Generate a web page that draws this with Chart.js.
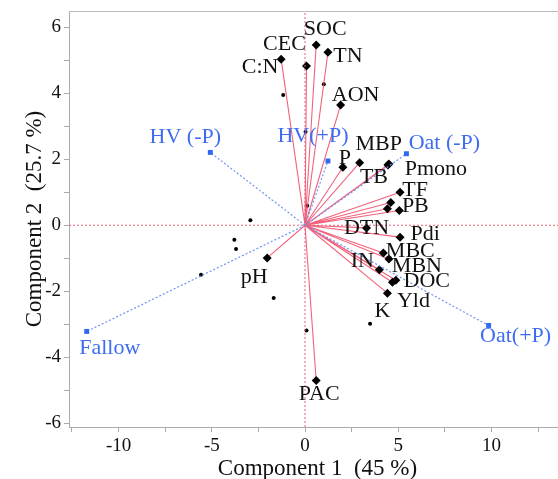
<!DOCTYPE html>
<html>
<head>
<meta charset="utf-8">
<script src="https://cdn.jsdelivr.net/npm/chart.js@4.4.1/dist/chart.umd.min.js"></script>
<style>
  html, body { margin: 0; padding: 0; overflow: hidden; background: #fff; }
  #wrap { position: absolute; left: 0; top: 0; width: 570px; height: 479px; }
</style>
</head>
<body>
<div id="wrap"><canvas id="chart"></canvas></div>
<script>
// loadings (red vectors)
const varNames = ['C:N', 'CEC', 'SOC', 'TN', 'AON', 'P', 'MBP', 'TB', 'Pmono', 'TF', '', '', 'PB',
  'DTN', 'Pdi', 'MBC', 'MBN', 'IN', 'DOC', 'Yld', 'K', 'pH', 'PAC'];
const varX = [-1.28, 0.08, 0.60, 1.23, 1.91, 2.03, 2.93, 4.45, 4.50, 5.10, 4.60, 4.42, 5.06,
  3.30, 5.10, 4.20, 4.50, 3.99, 4.87, 4.69, 4.42, -2.03, 0.60];
const varY = [5.04, 4.83, 5.47, 5.25, 3.65, 1.76, 1.90, 1.83, 1.86, 1.00, 0.69, 0.50, 0.45,
  -0.08, -0.36, -0.84, -1.02, -1.35, -1.67, -1.73, -2.06, -0.99, -4.71];

// treatment scores (blue)
const groupNames = ['HV (-P)', 'HV(+P)', 'Oat (-P)', 'Fallow', 'Oat(+P)'];
const groupX = [-5.08, 1.23, 5.44, -11.71, 9.85];
const groupY = [2.21, 1.95, 2.17, -3.22, -3.04];

// individual observations (small black dots)
const obsX = [-1.17, 1.01, 0.03, 0.12, -2.93, -3.79, -3.70, -5.58, -1.68, 0.08, 3.49];
const obsY = [3.95, 4.28, 2.84, 0.59, 0.15, -0.44, -0.72, -1.50, -2.21, -3.19, -2.99];

const xTicks = [-12.5, -10, -7.5, -5, -2.5, 0, 2.5, 5, 7.5, 10, 12.5];
const yTicks = [-6, -5, -4, -3, -2, -1, 0, 1, 2, 3, 4, 5, 6];

const X_MIN = -12.66, X_MAX = 14, Y_MIN = -6.12, Y_MAX = 6.5;
const FONT = "'Liberation Serif', 'Times New Roman', serif";

// label placement relative to marker, in pixels
const varLabelOffset = {
  'C:N': [-21, 8], 'CEC': [-22, -22], 'SOC': [9, -16], 'TN': [20, 4], 'AON': [15, -10],
  'P': [2, -9], 'MBP': [19, -18], 'TB': [-14, 12], 'Pmono': [47, 5], 'TF': [15, -2],
  'PB': [16, -4], 'DTN': [0, 0], 'Pdi': [25, -3], 'MBC': [27, -2], 'MBN': [28, 7],
  'IN': [-17, -9], 'DOC': [31, 1], 'Yld': [21, 19], 'K': [-5, 18], 'pH': [-13, 19], 'PAC': [3, 14]
};
const groupLabelOffset = {
  'HV (-P)': [-25, -15], 'HV(+P)': [-15, -25], 'Oat (-P)': [38, -11], 'Fallow': [23, 17], 'Oat(+P)': [27, 11]
};

function rays(xs, ys) {
  const pts = [];
  xs.forEach((x, i) => { pts.push({x: 0, y: 0}, {x: x, y: ys[i]}, {x: 0, y: null}); });
  return pts;
}

const labelPlugin = {
  id: 'labels',
  afterDatasetsDraw(chart) {
    const c = chart.ctx, sx = chart.scales.x, sy = chart.scales.y;
    c.save();
    c.textAlign = 'center';
    c.textBaseline = 'middle';
    c.font = '22px ' + FONT;
    c.fillStyle = '#111';
    varNames.forEach((n, i) => {
      if (!n) return;
      const o = varLabelOffset[n] || [0, 0];
      c.fillText(n, sx.getPixelForValue(varX[i]) + o[0], sy.getPixelForValue(varY[i]) + o[1]);
    });
    c.fillStyle = '#3f6cf0';
    groupNames.forEach((n, i) => {
      const o = groupLabelOffset[n] || [0, 0];
      c.fillText(n, sx.getPixelForValue(groupX[i]) + o[0], sy.getPixelForValue(groupY[i]) + o[1]);
    });
    c.restore();
  }
};

new Chart(document.getElementById('chart'), {
  type: 'scatter',
  data: {
    datasets: [
      { // zero lines
        data: [{x: X_MIN, y: 0}, {x: X_MAX, y: 0}, {x: 0, y: null}, {x: 0, y: Y_MIN}, {x: 0, y: Y_MAX}],
        showLine: true, borderColor: '#e8607a', borderWidth: 1, borderDash: [2, 2],
        pointRadius: 0, spanGaps: false
      },
      { // treatment score rays
        data: rays(groupX, groupY),
        showLine: true, borderColor: '#6f95f5', borderWidth: 1.2, borderDash: [2, 2],
        pointStyle: 'rect', backgroundColor: '#2f6af2',
        pointRadius: ctx => ctx.dataIndex % 3 === 1 ? 3.5 : 0,
        pointBorderColor: '#2f6af2', pointBorderWidth: 0, spanGaps: false
      },
      { // loading vectors
        data: rays(varX, varY),
        showLine: true, borderColor: 'rgba(240,70,100,0.85)', borderWidth: 1.1,
        pointStyle: 'rectRot', backgroundColor: '#000', pointBorderColor: '#000', pointBorderWidth: 0,
        pointRadius: ctx => ctx.dataIndex % 3 === 1 ? 4.5 : 0, spanGaps: false
      },
      { // observations
        data: obsX.map((x, i) => ({x: x, y: obsY[i]})),
        pointStyle: 'circle', backgroundColor: '#000', borderWidth: 0, pointRadius: 2
      }
    ]
  },
  options: {
    responsive: true,
    maintainAspectRatio: false,
    animation: false,
    events: [],
    layout: { padding: { top: 11, left: 0, right: 0, bottom: 0 } },
    plugins: { legend: { display: false }, tooltip: { enabled: false } },
    scales: {
      x: {
        type: 'linear', position: 'bottom', min: X_MIN, max: X_MAX,
        afterBuildTicks: s => { s.ticks = xTicks.map(v => ({value: v})); },
        afterFit: s => { s.height = 52; },
        ticks: {
          callback: v => (v % 5 === 0 ? String(v) : ''),
          font: {family: FONT, size: 19}, color: '#111', padding: 3, maxRotation: 0, autoSkip: false
        },
        grid: { drawOnChartArea: false, drawTicks: true, tickLength: 5, color: '#aaa' },
        border: { color: '#aaa' },
        title: { display: true, text: 'Component 1  (45 %)', color: '#111',
          font: {family: FONT, size: 23}, padding: {top: 0, bottom: -4} }
      },
      y: {
        type: 'linear', position: 'left', min: Y_MIN, max: Y_MAX,
        afterBuildTicks: s => { s.ticks = yTicks.map(v => ({value: v})); },
        afterFit: s => { s.width = 69; s.paddingTop = 0; s.paddingBottom = 0; },
        ticks: {
          callback: v => (v % 2 === 0 ? String(v) : ''),
          font: {family: FONT, size: 19}, color: '#111', padding: 3, autoSkip: false
        },
        grid: { drawOnChartArea: false, drawTicks: true, tickLength: 5, color: '#aaa' },
        border: { color: '#aaa' },
        title: { display: true, text: 'Component 2  (25.7 %)', color: '#111',
          font: {family: FONT, size: 23}, padding: {top: 21, bottom: 0} }
      },
      x2: {
        type: 'linear', position: 'top', min: X_MIN, max: X_MAX,
        ticks: { display: false },
        grid: { display: false },
        border: { display: true, color: '#bbb' },
        afterFit: s => { s.height = 0; }
      }
    }
  },
  plugins: [labelPlugin]
});
</script>
</body>
</html>
